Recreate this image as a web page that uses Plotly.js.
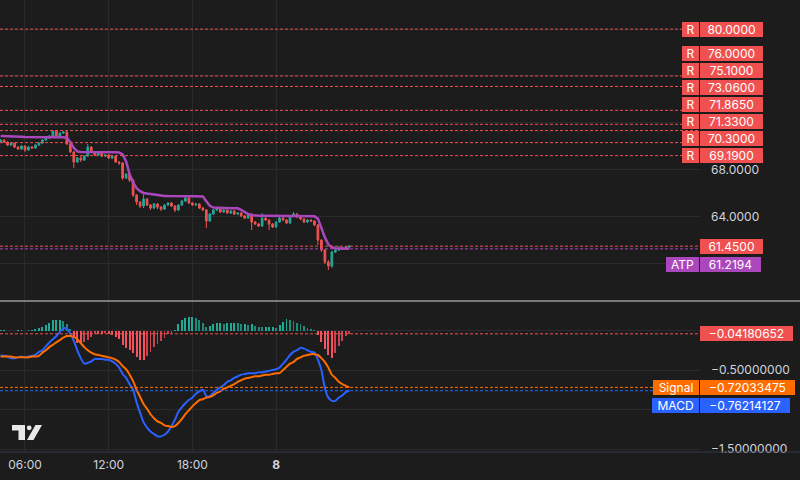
<!DOCTYPE html>
<html><head><meta charset="utf-8">
<script src="https://cdn.plot.ly/plotly-3.0.1.min.js"></script>
<style>html,body{margin:0;padding:0;background:#1c1c1c;}#chart{width:800px;height:480px;}</style>
</head><body><div id="chart"></div>
<script>
// ---------- data ----------
const barMinutes = 15;
const firstBar = [2024, 2, 7, 4, 15]; // 7th, 04:15 (UTC)
const open = [70.35,70.52,70.35,70.09,70.26,69.92,69.75,70.01,69.67,69.92,
69.84,70.09,70.26,70.52,70.69,70.86,71.29,70.78,71.12,71.21,
70.18,69.50,68.64,68.98,68.81,69.15,69.92,69.50,69.24,69.41,
69.15,69.24,68.98,69.15,68.64,68.56,67.27,67.62,67.10,65.82,
65.22,64.88,65.48,64.97,64.71,65.05,64.79,64.62,64.97,65.14,
64.88,64.54,64.97,65.31,65.56,65.14,64.97,65.05,64.71,64.54,
63.60,64.20,64.54,64.71,64.37,64.54,64.28,64.45,64.20,64.28,
64.03,63.85,64.20,63.51,63.34,63.17,63.85,63.68,63.34,63.09,
63.51,63.85,63.68,63.43,64.03,64.20,63.94,63.77,63.51,63.68,
63.60,63.26,61.97,61.12,60.09,59.75,60.95,61.12,61.29,61.21,61.38];
const close = [70.52,70.35,70.09,70.26,69.92,69.75,70.01,69.67,69.92,69.84,
70.09,70.26,70.52,70.69,70.86,71.29,70.78,71.12,71.21,70.18,
69.50,68.64,68.98,68.81,69.15,69.92,69.50,69.24,69.41,69.15,
69.24,68.98,69.15,68.64,68.56,67.27,67.62,67.10,65.82,65.22,
64.88,65.48,64.97,64.71,65.05,64.79,64.62,64.97,65.14,64.88,
64.54,64.97,65.31,65.56,65.14,64.97,65.05,64.71,64.54,63.60,
64.20,64.54,64.71,64.37,64.54,64.28,64.45,64.20,64.28,64.03,
63.85,64.20,63.51,63.34,63.17,63.85,63.68,63.34,63.09,63.51,
63.85,63.68,63.43,64.03,64.20,63.94,63.77,63.51,63.68,63.60,
63.26,61.97,61.12,60.09,59.75,60.95,61.12,61.29,61.21,61.38,61.45];
const high = [70.60,70.60,70.40,70.35,70.30,70.01,70.09,70.05,70.01,70.01,
70.18,70.35,70.60,70.78,70.95,71.38,71.38,71.21,71.29,71.29,
70.26,69.58,69.07,69.15,69.24,70.18,70.01,69.58,69.50,69.50,
69.32,69.32,69.24,69.24,68.73,68.64,67.70,67.70,67.19,65.90,
65.31,65.90,65.56,65.05,65.14,65.14,64.88,65.05,65.22,65.22,
64.97,65.05,65.39,65.65,65.65,65.22,65.14,65.14,64.79,64.62,
64.28,64.62,64.79,64.79,64.62,64.62,64.54,64.54,64.37,64.37,
64.11,64.28,64.28,63.60,63.43,64.28,63.94,63.77,63.43,63.60,
63.94,63.94,63.77,64.11,64.37,64.28,64.03,63.85,63.77,63.77,
63.68,63.34,62.05,61.21,60.26,61.04,61.29,61.46,61.38,61.46,61.50];
const low = [70.26,70.26,70.01,70.01,69.84,69.67,69.67,69.50,69.58,69.75,
69.75,70.01,70.18,70.44,70.60,70.78,70.69,70.69,71.04,70.09,
69.41,68.13,68.56,68.64,68.73,69.07,69.41,69.15,69.15,69.07,
69.07,68.90,68.90,68.56,68.38,67.10,67.19,66.93,65.65,64.97,
64.71,64.71,64.88,64.54,64.62,64.62,64.45,64.54,64.88,64.79,
64.37,64.45,64.88,65.22,65.05,64.88,64.88,64.62,64.45,63.00,
63.51,64.11,64.45,64.28,64.28,64.20,64.20,64.11,64.11,63.94,
63.77,63.77,62.83,63.26,63.09,63.09,63.60,62.83,63.00,63.00,
63.43,63.60,63.34,63.34,63.94,63.85,63.68,63.43,63.43,63.51,
63.17,61.55,60.95,59.92,59.41,59.58,60.86,61.04,61.12,61.12,61.29];
const atp = [70.86,70.86,70.86,70.85,70.84,70.82,70.80,70.78,70.77,70.76,
70.76,70.76,70.76,70.76,70.77,70.78,70.78,70.78,70.77,70.70,
70.35,69.85,69.55,69.50,69.50,69.52,69.52,69.51,69.50,69.50,
69.50,69.49,69.48,69.47,69.45,69.30,68.70,67.60,66.90,66.40,
66.15,66.00,65.95,65.90,65.85,65.78,65.75,65.74,65.73,65.72,
65.72,65.72,65.72,65.73,65.73,65.72,65.72,65.71,65.70,65.30,
64.90,64.75,64.73,64.72,64.71,64.71,64.70,64.70,64.69,64.55,
64.35,64.20,64.10,64.06,64.05,64.05,64.05,64.04,64.03,64.03,
64.03,64.03,64.03,64.03,64.04,64.04,64.04,64.03,64.03,64.02,
64.00,63.80,63.00,62.20,61.60,61.35,61.28,61.26,61.24,61.23,61.2194];
const macd = [-0.32,-0.32,-0.33,-0.35,-0.35,-0.34,-0.33,-0.34,-0.33,-0.32,
-0.31,-0.27,-0.25,-0.20,-0.15,-0.11,-0.07,-0.02,0.03,0.02,
-0.04,-0.13,-0.25,-0.35,-0.42,-0.41,-0.39,-0.36,-0.36,-0.36,
-0.37,-0.37,-0.39,-0.42,-0.47,-0.55,-0.60,-0.68,-0.75,-0.91,
-1.04,-1.16,-1.23,-1.28,-1.31,-1.34,-1.34,-1.32,-1.28,-1.21,
-1.13,-1.03,-0.97,-0.92,-0.88,-0.85,-0.80,-0.77,-0.75,-0.83,
-0.83,-0.79,-0.75,-0.72,-0.69,-0.65,-0.63,-0.60,-0.58,-0.56,
-0.55,-0.54,-0.54,-0.54,-0.53,-0.53,-0.52,-0.51,-0.50,-0.49,
-0.47,-0.42,-0.37,-0.31,-0.27,-0.25,-0.22,-0.23,-0.25,-0.27,
-0.28,-0.37,-0.50,-0.73,-0.85,-0.89,-0.89,-0.85,-0.82,-0.78,-0.76214127];
const signal = [-0.33,-0.33,-0.33,-0.33,-0.34,-0.34,-0.34,-0.34,-0.34,-0.33,
-0.33,-0.32,-0.28,-0.25,-0.21,-0.18,-0.15,-0.12,-0.09,-0.07,
-0.07,-0.08,-0.11,-0.16,-0.21,-0.25,-0.28,-0.30,-0.31,-0.32,
-0.33,-0.34,-0.35,-0.37,-0.40,-0.45,-0.49,-0.56,-0.64,-0.75,
-0.84,-0.93,-0.99,-1.06,-1.11,-1.15,-1.17,-1.20,-1.21,-1.22,
-1.21,-1.17,-1.12,-1.06,-1.01,-0.96,-0.92,-0.88,-0.87,-0.85,
-0.84,-0.82,-0.79,-0.77,-0.74,-0.72,-0.70,-0.68,-0.65,-0.63,
-0.61,-0.60,-0.59,-0.58,-0.58,-0.57,-0.56,-0.56,-0.55,-0.54,
-0.54,-0.50,-0.46,-0.42,-0.40,-0.36,-0.34,-0.32,-0.31,-0.30,
-0.30,-0.31,-0.35,-0.40,-0.47,-0.56,-0.60,-0.65,-0.68,-0.70,-0.72033475];
const hist = [0.01,0.01,-0.01,-0.01,-0.01,0.005,0.01,-0.01,0.01,0.01,
0.02,0.03,0.04,0.07,0.10,0.13,0.13,0.13,0.12,0.08,
0.02,-0.10,-0.16,-0.17,-0.15,-0.12,-0.08,-0.05,-0.05,-0.05,
-0.03,-0.04,-0.06,-0.08,-0.11,-0.18,-0.22,-0.25,-0.29,-0.33,
-0.37,-0.37,-0.32,-0.27,-0.21,-0.17,-0.13,-0.09,-0.05,-0.03,
0.005,0.08,0.13,0.16,0.17,0.17,0.16,0.13,0.09,0.05,
0.06,0.08,0.09,0.09,0.08,0.09,0.09,0.10,0.09,0.08,
0.08,0.07,0.08,0.06,0.05,0.04,0.04,0.04,0.04,0.03,
0.07,0.11,0.14,0.13,0.12,0.10,0.08,0.06,0.03,0.02,
0.01,-0.06,-0.14,-0.24,-0.31,-0.35,-0.29,-0.20,-0.13,-0.07,-0.04180652];
const levels = [80, 76, 75.1, 73.06, 71.865, 71.33, 70.3, 69.19];
const levelTag = 'R';
const timeTicks = ['2024-03-07 06:00','2024-03-07 12:00','2024-03-07 18:00','2024-03-08 00:00'];
const timeTickText = ['06:00','12:00','18:00','<b>8</b>'];
const priceTicks = [60, 64, 68, 72, 76, 80];
const priceTickText = ['', '64.0000', '68.0000', '', '', ''];   // the others sit under the price tags
const macdTicks = [-1.5, -1.0, -0.5, 0];
const macdTickText = ['\u22121.50000000', '', '\u22120.50000000', ''];

// ---------- style / layout ----------
const BG = '#1c1c1c', GRID = '#2a2a2a', TXT = '#d1d4dc';
const UP = '#26a69a', DOWN = '#ef5350', RED = '#f0504f';
const PURPLE = '#ab47bc', BLUE = '#2962ff', ORANGE = '#ff6d00';
const FONT = 'Inter, Roboto, sans-serif';
const W = 800, H = 480, M = {l: 0, r: 100, t: 0, b: 28};
const PW = W - M.l - M.r, PH = H - M.t - M.b;
const priceDom = [0.3363, 1], macdDom = [0, 0.3319];
const priceRange = [56.85, 82.49], macdRange = [-1.538, 0.361];
const xRange = ['2024-03-07 04:12:30', '2024-03-09 06:23:30'];

function pad(n){ return String(n).padStart(2, '0'); }
const t0 = Date.UTC(firstBar[0], firstBar[1], firstBar[2], firstBar[3], firstBar[4]);
const times = close.map((_, i) => {
  const d = new Date(t0 + i * barMinutes * 60000);
  return d.getUTCFullYear() + '-' + pad(d.getUTCMonth()+1) + '-' + pad(d.getUTCDate()) + ' ' + pad(d.getUTCHours()) + ':' + pad(d.getUTCMinutes());
});
const barMs = barMinutes * 60000;

function yPix(v, dom, rng){
  return M.t + PH * (1 - dom[1]) + (rng[1] - v) / (rng[1] - rng[0]) * PH * (dom[1] - dom[0]);
}
const minus = s => s.replace('-', '\u2212');

const traces = [
  {type: 'scatter', mode: 'lines', x: times, y: atp, xaxis: 'x', yaxis: 'y',
   line: {color: PURPLE, width: 2.5}, hoverinfo: 'skip'},
  {type: 'candlestick', x: times, open, high, low, close, xaxis: 'x', yaxis: 'y',
   increasing: {line: {color: UP, width: 1}, fillcolor: UP},
   decreasing: {line: {color: DOWN, width: 1}, fillcolor: DOWN},
   whiskerwidth: 0, hoverinfo: 'skip'},
  {type: 'bar', x: times, y: hist, xaxis: 'x', yaxis: 'y2', width: barMs * 0.55,
   marker: {color: hist.map((v, i) => {
     const prev = i > 0 ? hist[i-1] : v;
     if (v >= 0) return v >= prev ? '#22ab94' : '#1d8c7b';
     return v <= prev ? '#f7525f' : '#c9424d';
   }), line: {width: 0}}, hoverinfo: 'skip'},
  {type: 'scatter', mode: 'lines', x: times, y: macd, xaxis: 'x', yaxis: 'y2',
   line: {color: BLUE, width: 2, shape: 'spline', smoothing: 0.6}, hoverinfo: 'skip'},
  {type: 'scatter', mode: 'lines', x: times, y: signal, xaxis: 'x', yaxis: 'y2',
   line: {color: ORANGE, width: 2, shape: 'spline', smoothing: 0.6}, hoverinfo: 'skip'}
];

const shapes = [];
function hline(v, yref, color){
  shapes.push({type: 'line', xref: 'paper', x0: 0, x1: 1, yref, y0: v, y1: v,
    line: {color, width: 1, dash: '3px,2px'}, layer: 'above'});
}
levels.forEach(v => hline(v, 'y', RED));
const last = close.length - 1;
hline(close[last], 'y', RED);
hline(atp[last], 'y', PURPLE);
hline(hist[last], 'y2', RED);
hline(signal[last], 'y2', ORANGE);
hline(macd[last], 'y2', BLUE);
// pane separator and bottom axis line (span price-scale column too)
shapes.push({type: 'line', xref: 'paper', yref: 'paper', x0: 0, x1: W / PW, y0: 0.3341, y1: 0.3341,
  line: {color: '#d6d6d6', width: 1}});
shapes.push({type: 'line', xref: 'paper', yref: 'paper', x0: 0, x1: W / PW, y0: 0, y1: 0,
  line: {color: '#33364a', width: 1}});
// logo
const px = x => x / PW, py = y => (PH - y) / PH;
shapes.push({type: 'path', xref: 'paper', yref: 'paper', fillcolor: '#e8e8e8', line: {width: 0},
  path: `M${px(12)},${py(425)} L${px(25)},${py(425)} L${px(25)},${py(440)} L${px(18.5)},${py(440)} L${px(18.5)},${py(430.5)} L${px(12)},${py(430.5)} Z`});
shapes.push({type: 'circle', xref: 'paper', yref: 'paper', fillcolor: '#e8e8e8', line: {width: 0},
  x0: px(26.8), x1: px(31.6), y0: py(430.2), y1: py(425.4)});
shapes.push({type: 'path', xref: 'paper', yref: 'paper', fillcolor: '#e8e8e8', line: {width: 0},
  path: `M${px(27)},${py(440)} L${px(33.5)},${py(440)} L${px(42)},${py(425)} L${px(35.5)},${py(425)} Z`});

// ---------- price-scale labels ----------
const annotations = [];
function tag(yref, v, shift, text, bg, width, side){
  annotations.push({xref: 'paper', x: 1, xanchor: side === 'left' ? 'right' : 'left',
    xshift: side === 'left' ? -1 : 0, yref, y: v, yanchor: 'middle', yshift: shift,
    text, showarrow: false, bgcolor: bg, borderwidth: 0, borderpad: 0,
    width, height: 15, align: 'center', valign: 'middle',
    font: {family: FONT, size: 12, color: '#ffffff'}});
}
// stack level labels upward from the lowest so they never overlap
const sorted = levels.slice().sort((a, b) => a - b);
let prevPix = Infinity;
sorted.forEach(v => {
  const own = yPix(v, priceDom, priceRange);
  const target = Math.min(own, prevPix - 17);
  prevPix = target;
  const shift = own - target;
  tag('y', v, shift, levelTag, RED, 17, 'left');
  tag('y', v, shift, v.toFixed(4), RED, 63, 'right');
});
const pricePix = yPix(close[last], priceDom, priceRange);
tag('y', close[last], 0, close[last].toFixed(4), RED, 63, 'right');
const atpPix = yPix(atp[last], priceDom, priceRange);
const atpShift = atpPix - Math.max(atpPix, pricePix + 18);
tag('y', atp[last], atpShift, 'ATP', PURPLE, 33, 'left');
tag('y', atp[last], atpShift, atp[last].toFixed(4), PURPLE, 61, 'right');

tag('y2', hist[last], 0, minus(hist[last].toFixed(8)), RED, 93, 'right');
tag('y2', signal[last], 0, 'Signal', ORANGE, 46, 'left');
tag('y2', signal[last], 0, minus(signal[last].toFixed(8)), ORANGE, 95, 'right');
const sigPix = yPix(signal[last], macdDom, macdRange);
const macdPix = yPix(macd[last], macdDom, macdRange);
const macdShift = macdPix - Math.max(macdPix, sigPix + 18);
tag('y2', macd[last], macdShift, 'MACD', BLUE, 47, 'left');
tag('y2', macd[last], macdShift, minus(macd[last].toFixed(8)), BLUE, 90, 'right');

const axisFont = {family: FONT, size: 12, color: TXT};
const layout = {
  width: W, height: H, margin: M, paper_bgcolor: BG, plot_bgcolor: BG,
  showlegend: false, hovermode: false, dragmode: false, bargap: 0, boxgap: 0.3,
  font: {family: FONT, color: TXT},
  xaxis: {type: 'date', range: xRange, anchor: 'y2', tickvals: timeTicks, ticktext: timeTickText,
    showgrid: true, gridcolor: GRID, gridwidth: 1, zeroline: false, showline: false, ticks: '',
    tickfont: axisFont, ticklabelstandoff: 4, rangeslider: {visible: false}, fixedrange: true},
  yaxis: {domain: priceDom, range: priceRange, side: 'right', anchor: 'x', tickvals: priceTicks,
    ticktext: priceTickText, showgrid: true, gridcolor: GRID, zeroline: false, showline: false, ticks: '',
    tickfont: axisFont, ticklabelstandoff: 10, fixedrange: true},
  yaxis2: {domain: macdDom, range: macdRange, side: 'right', anchor: 'x', tickvals: macdTicks,
    ticktext: macdTickText, showgrid: true, gridcolor: GRID, zeroline: false, showline: false, ticks: '',
    tickfont: axisFont, ticklabelstandoff: 10, fixedrange: true},
  shapes, annotations
};
Plotly.newPlot('chart', traces, layout, {staticPlot: true, displayModeBar: false});
</script></body></html>
